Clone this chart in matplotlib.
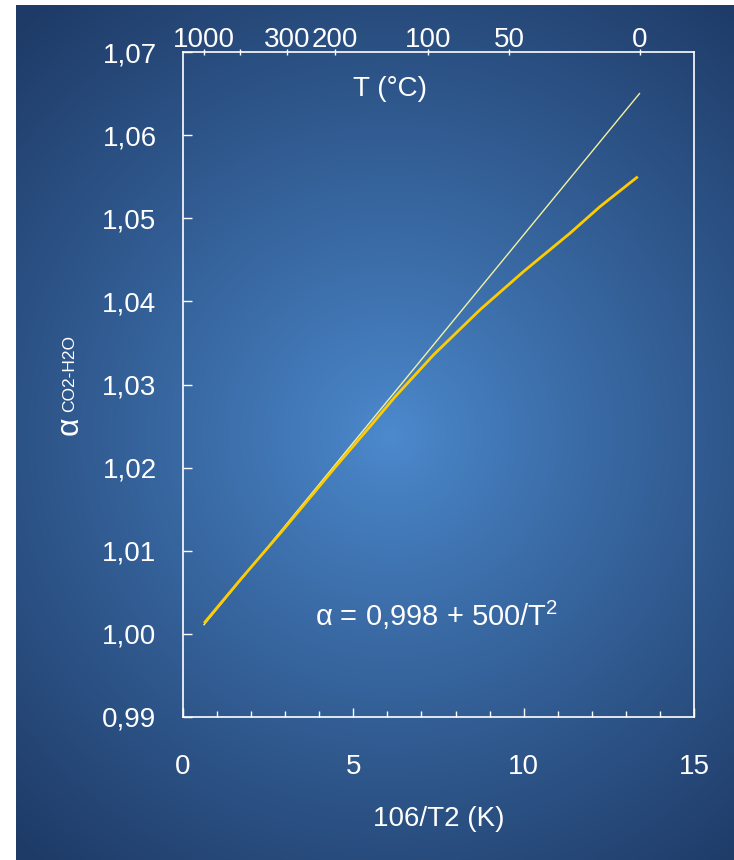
import numpy as np
import matplotlib
matplotlib.use("Agg")
import matplotlib.pyplot as plt

plt.rcParams['font.family'] = ['Liberation Sans', 'DejaVu Sans']
plt.rcParams['mathtext.fontset'] = 'custom'
plt.rcParams['mathtext.rm'] = 'Liberation Sans'

# Data
line_x = [0.617, 13.40]            # alpha = 0.998 + 500/T^2 (straight)
line_y = [1.0011, 1.0650]
curve_x = [0.62, 1.7, 3.0, 4.5, 5.5, 6.22, 7.35, 8.72, 9.99, 11.36, 12.24, 13.35]
curve_y = [1.0013, 1.0066, 1.0128, 1.0202, 1.0250, 1.0285, 1.03355, 1.0390,
           1.04357, 1.0482, 1.0514, 1.0550]
temps_c = [1000, 500, 300, 200, 100, 50, 0]
temp_labels = ['1000', '', '300', '200', '100', '50', '0']
y_ticks = [0.99, 1.00, 1.01, 1.02, 1.03, 1.04, 1.05, 1.06, 1.07]
x_ticks = [0, 5, 10, 15]

W, H = 734, 860
fig = plt.figure(figsize=(W / 100, H / 100), dpi=100)
fig.patch.set_facecolor('white')

# radial gradient background
bg = fig.add_axes([16 / W, 0, (W - 16) / W, (H - 5) / H])
bw, bh = W - 16, H - 5
yy, xx = np.mgrid[0:bh, 0:bw]
cx, cy = 390 - 16, 435 - 5
r = np.sqrt((xx - cx) ** 2 + (yy - cy) ** 2)
r = np.clip(r / 560, 0, 1) ** 0.9
c0 = np.array([76, 138, 206]) / 255
c1 = np.array([30, 58, 102]) / 255
img = c0[None, None, :] * (1 - r[..., None]) + c1[None, None, :] * r[..., None]
bg.imshow(img, aspect='auto', interpolation='bilinear')
bg.axis('off')

ax = fig.add_axes([183 / W, 1 - 717 / H, (694 - 183) / W, (717 - 52) / H])
ax.patch.set_alpha(0)

ax.plot(line_x, line_y, color='#f2f2a0', lw=1.0)
ax.plot(curve_x, curve_y, color='#ffcc00', lw=2.0, solid_capstyle='butt')

ax.set_xlim(0, 15)
ax.set_ylim(0.99, 1.07)
for s in ax.spines.values():
    s.set_color('white')
    s.set_linewidth(1.2)

fs = 20
ax.set_yticks(y_ticks)
ax.set_yticklabels([f'{v:.2f}'.replace('.', ',') for v in y_ticks])
ax.set_xticks(x_ticks)
ax.set_xticks(np.arange(0, 16, 1), minor=True)
ax.tick_params(axis='y', direction='in', length=6.5, width=1, color='white',
               labelcolor='white', labelsize=fs, pad=19, right=False)
ax.tick_params(axis='x', which='major', direction='in', length=6.5, width=1,
               color='white', labelcolor='white', labelsize=fs, pad=27)
ax.tick_params(axis='x', which='minor', direction='in', length=4.5, width=1,
               color='white')
ax.set_xlabel('106/T2 (K)', color='white', fontsize=fs, labelpad=18)

ax.text(-0.221, 0.4376, 'α', transform=ax.transAxes, rotation=90, color='white',
        fontsize=23, ha='center', va='center')
ax.text(-0.222, 0.516, 'CO2-H2O', transform=ax.transAxes, rotation=90,
        color='white', fontsize=12.5, ha='center', va='center')

top = ax.twiny()
top.set_xlim(0, 15)
top_pos = [1e6 / (t + 273.15) ** 2 for t in temps_c]
top.set_xticks(top_pos)
top.set_xticklabels(temp_labels)
top.tick_params(axis='x', direction='inout', length=5, width=1, color='white',
                labelcolor='white', labelsize=fs, pad=-3.5)
for s in top.spines.values():
    s.set_visible(False)

ax.text(0.405, 0.945, 'T (°C)', transform=ax.transAxes, color='white',
        fontsize=fs, ha='center', va='center')
ax.text(0.497, 0.153, 'α = 0,998 + 500/T$^{2}$', transform=ax.transAxes,
        color='white', fontsize=21, ha='center', va='center')

fig.savefig('out.png', dpi=100)
